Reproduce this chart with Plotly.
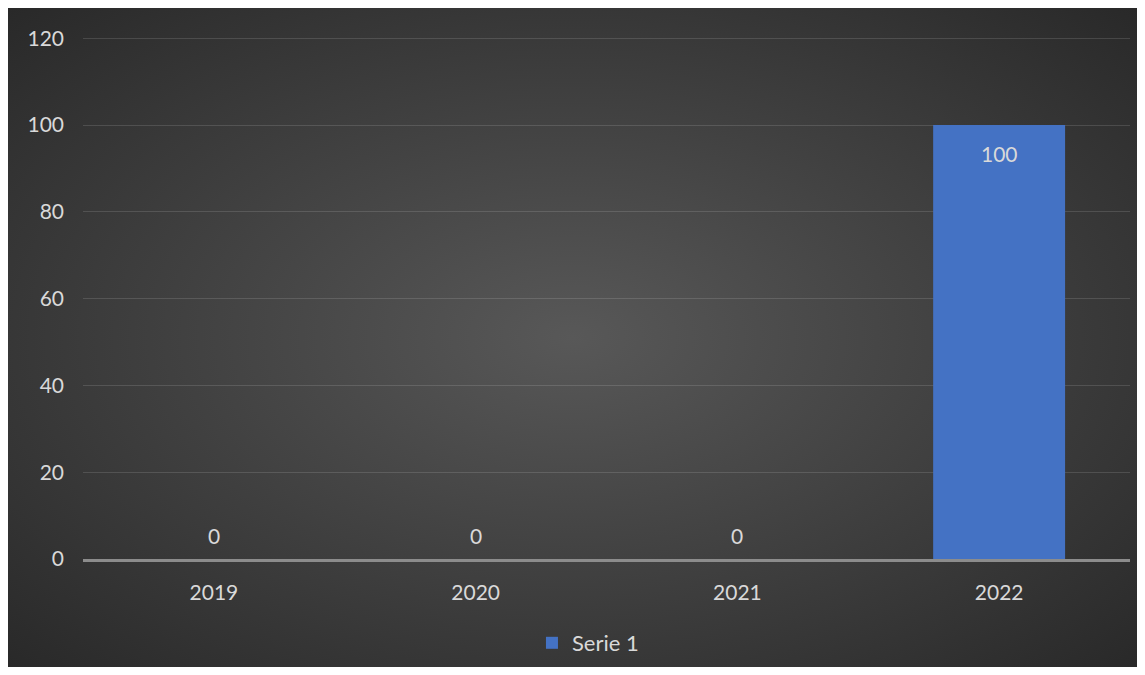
import plotly.graph_objects as go
import base64

categories = ["2019", "2020", "2021", "2022"]
values = [0, 0, 0, 100]
series_name = "Serie 1"
y_ticks = [0, 20, 40, 60, 80, 100, 120]

FONT = "Lato, 'Open Sans', sans-serif"
TXT = "#d9d9d9"

W, H = 1129, 659
ML, MR, MT, MB = 75, 7, 26, 108
PW, PH = W - ML - MR, H - MT - MB

svg = (
    '<svg xmlns="http://www.w3.org/2000/svg" width="1129" height="659" preserveAspectRatio="none">'
    '<defs><radialGradient id="g" cx="0.5" cy="0.5" r="0.72">'
    '<stop offset="0" stop-color="#585858"/>'
    '<stop offset="1" stop-color="#282828"/>'
    '</radialGradient></defs>'
    '<rect width="1129" height="659" fill="url(#g)"/></svg>'
)
bg_src = "data:image/svg+xml;base64," + base64.b64encode(svg.encode()).decode()

xpos = list(range(len(categories)))

fig = go.Figure()
fig.add_trace(go.Bar(
    x=xpos, y=values, name=series_name, width=0.504,
    marker=dict(color="#4472C4", line=dict(width=0)),
    showlegend=True,
))

annotations = []
for i, v in zip(xpos, values):
    annotations.append(dict(
        x=i, y=v, xref="x", yref="y", text=str(v), showarrow=False,
        yshift=24 if v == 0 else -28, yanchor="middle",
        font=dict(family=FONT, size=21, color=TXT),
    ))

fig.update_layout(
    width=W, height=H,
    margin=dict(l=ML, r=MR, t=MT, b=MB, autoexpand=False),
    paper_bgcolor="#2b2b2b",
    plot_bgcolor="rgba(0,0,0,0)",
    font=dict(family=FONT, size=21, color=TXT),
    images=[dict(
        source=bg_src, xref="paper", yref="paper",
        x=-ML / PW, y=1 + MT / PH, sizex=W / PW, sizey=H / PH,
        xanchor="left", yanchor="top", sizing="stretch", layer="below",
    )],
    xaxis=dict(
        range=[-0.5, len(categories) - 0.5], tickvals=xpos, ticktext=categories,
        showgrid=False, showline=True, linecolor="#8c8c8c", linewidth=2.5,
        zeroline=False, ticks="", ticklabelstandoff=13,
        tickfont=dict(family=FONT, size=21, color=TXT),
    ),
    yaxis=dict(
        range=[0, 121], tickvals=y_ticks, showgrid=True,
        gridcolor="rgba(255,255,255,0.13)", gridwidth=1,
        zeroline=False, showline=False, ticks="", ticklabelstandoff=18,
        tickfont=dict(family=FONT, size=21, color=TXT),
    ),
    legend=dict(
        orientation="h", x=0.4823, xanchor="center",
        yref="container", y=24 / H, yanchor="middle",
        font=dict(family=FONT, size=22, color=TXT), bgcolor="rgba(0,0,0,0)",
    ),
    annotations=annotations,
)

fig.write_html("out.html")
